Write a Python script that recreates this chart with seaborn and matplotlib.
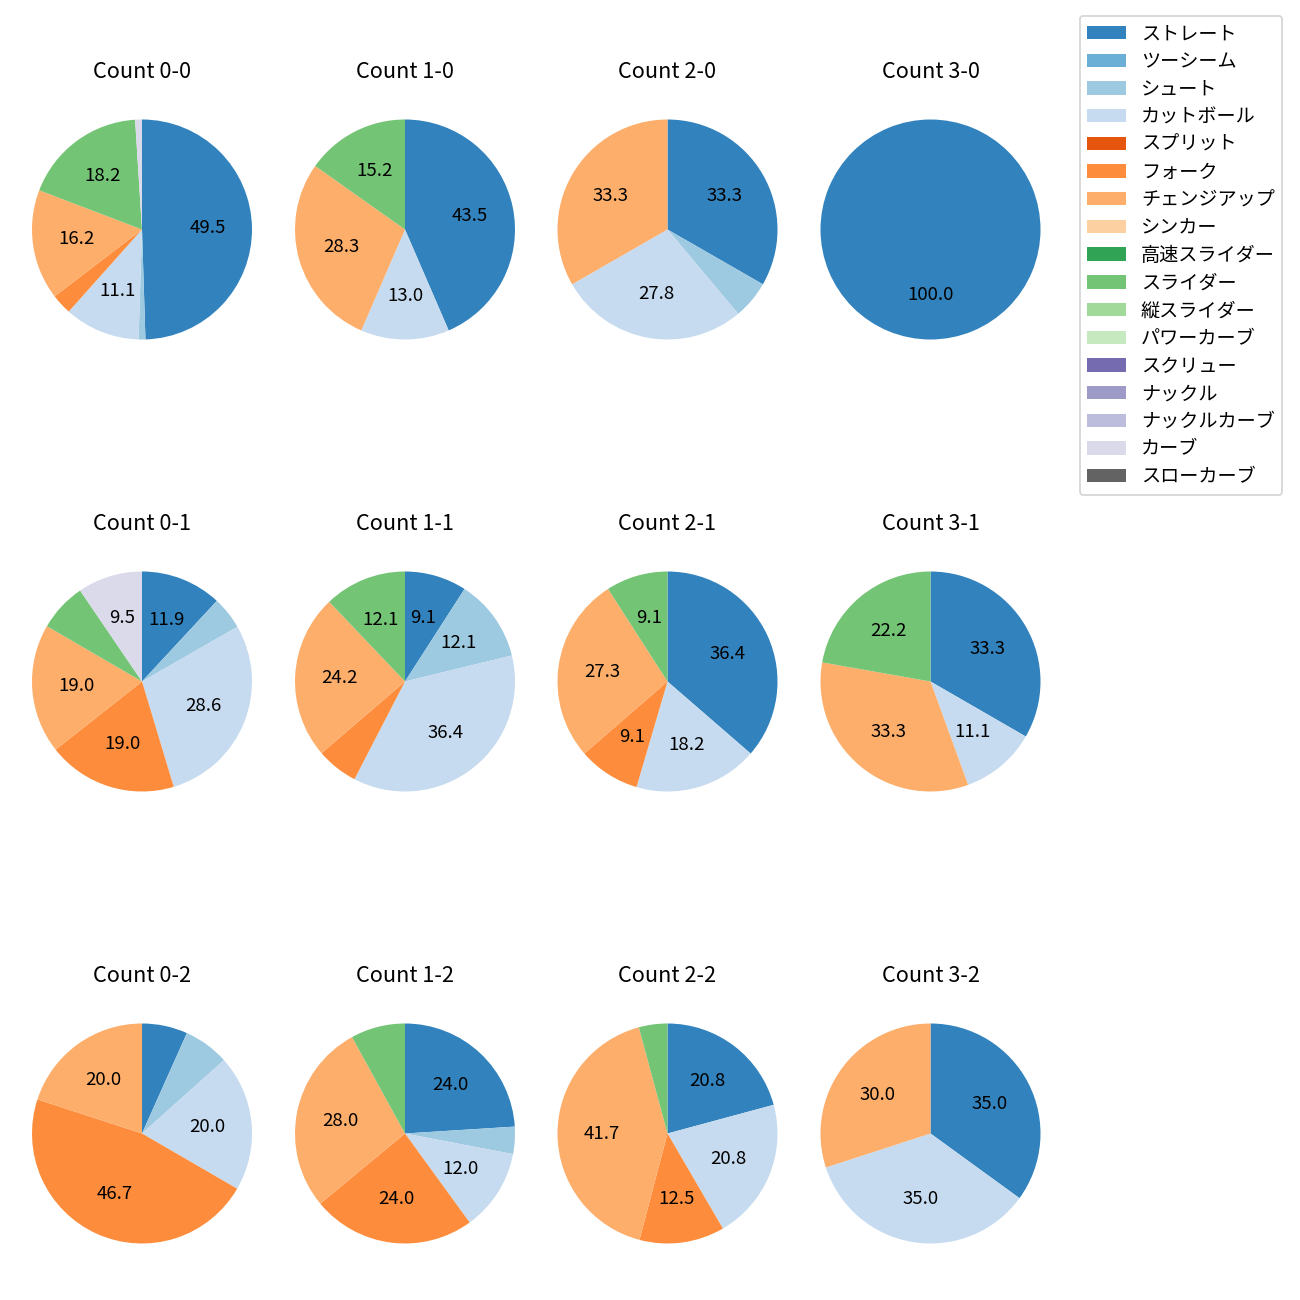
import matplotlib
matplotlib.use("Agg")
import matplotlib.pyplot as plt
from matplotlib.patches import Patch
import seaborn as sns

plt.rcParams["font.family"] = ["Noto Sans CJK JP", "DejaVu Sans"]

pitch_names = ["ストレート", "ツーシーム", "シュート", "カットボール", "スプリット", "フォーク",
               "チェンジアップ", "シンカー", "高速スライダー", "スライダー", "縦スライダー",
               "パワーカーブ", "スクリュー", "ナックル", "ナックルカーブ", "カーブ", "スローカーブ"]

count_titles = ["Count 0-0", "Count 1-0", "Count 2-0", "Count 3-0",
                "Count 0-1", "Count 1-1", "Count 2-1", "Count 3-1",
                "Count 0-2", "Count 1-2", "Count 2-2", "Count 3-2"]

# percentage share per pitch type (same order as pitch_names)
c00 = [49.5, 0, 1.0, 11.1, 0, 3.0, 16.2, 0, 0, 18.2, 0, 0, 0, 0, 0, 1.0, 0]
c10 = [43.5, 0, 0, 13.0, 0, 0, 28.3, 0, 0, 15.2, 0, 0, 0, 0, 0, 0, 0]
c20 = [33.3, 0, 5.6, 27.8, 0, 0, 33.3, 0, 0, 0, 0, 0, 0, 0, 0, 0, 0]
c30 = [100.0, 0, 0, 0, 0, 0, 0, 0, 0, 0, 0, 0, 0, 0, 0, 0, 0]
c01 = [11.9, 0, 4.8, 28.6, 0, 19.0, 19.0, 0, 0, 7.1, 0, 0, 0, 0, 0, 9.5, 0]
c11 = [9.1, 0, 12.1, 36.4, 0, 6.1, 24.2, 0, 0, 12.1, 0, 0, 0, 0, 0, 0, 0]
c21 = [36.4, 0, 0, 18.2, 0, 9.1, 27.3, 0, 0, 9.1, 0, 0, 0, 0, 0, 0, 0]
c31 = [33.3, 0, 0, 11.1, 0, 0, 33.3, 0, 0, 22.2, 0, 0, 0, 0, 0, 0, 0]
c02 = [6.7, 0, 6.7, 20.0, 0, 46.7, 20.0, 0, 0, 0, 0, 0, 0, 0, 0, 0, 0]
c12 = [24.0, 0, 4.0, 12.0, 0, 24.0, 28.0, 0, 0, 8.0, 0, 0, 0, 0, 0, 0, 0]
c22 = [20.8, 0, 0, 20.8, 0, 12.5, 41.7, 0, 0, 4.2, 0, 0, 0, 0, 0, 0, 0]
c32 = [35.0, 0, 0, 35.0, 0, 0, 30.0, 0, 0, 0, 0, 0, 0, 0, 0, 0, 0]

count_values = [c00, c10, c20, c30, c01, c11, c21, c31, c02, c12, c22, c32]

colors = sns.color_palette("tab20c", 20)[:17]

fig = plt.figure(figsize=(10, 10), dpi=130)
W = H = 1300.0
col_cx = [142, 405, 667.5, 930.5]
row_cy = [229.5, 681.5, 1133.5]
half = 137.5

for i, (title, vals) in enumerate(zip(count_titles, count_values)):
    r, c = divmod(i, 4)
    cx, cy = col_cx[c], row_cy[r]
    ax = fig.add_axes([(cx - half) / W, 1 - (cy + half) / H, 2 * half / W, 2 * half / H])
    idx = [k for k, v in enumerate(vals) if v > 0]
    ax.pie([vals[k] for k in idx], colors=[colors[k] for k in idx],
           startangle=90, counterclock=False,
           autopct=lambda p: f"{p:.1f}" if p >= 9 else "",
           textprops={"fontsize": 10.3, "color": "black"})
    ax.set_title(title, fontsize=12, pad=8, color="black")

handles = [Patch(facecolor=colors[k], label=pitch_names[k]) for k in range(17)]
fig.legend(handles=handles, loc="upper right", bbox_to_anchor=(1292 / W, 1 - 6 / H),
           fontsize=10.6, labelspacing=0.35, frameon=True)

fig.savefig("out.png", dpi=130)
